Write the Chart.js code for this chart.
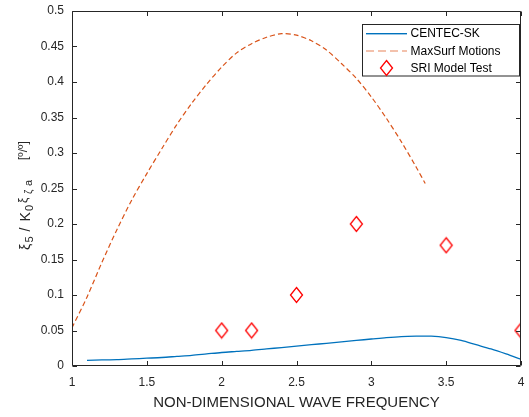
<!DOCTYPE html>
<html>
<head>
<meta charset="utf-8">
<script src="https://cdn.jsdelivr.net/npm/chart.js@4/dist/chart.umd.min.js"></script>
<style>
  html, body { margin: 0; padding: 0; background: #fff; }
  #wrap { width: 529px; height: 417px; position: relative; }
</style>
</head>
<body>
<div id="wrap"><canvas id="c" width="529" height="417"></canvas></div>
<script>
// ---- data ----
const centecFreq = [1.1,1.2,1.3,1.4,1.5,1.6,1.7,1.8,1.9,2.0,2.1,2.2,2.3,2.4,2.5,2.6,2.7,2.8,2.9,3.0,3.1,3.2,3.3,3.4,3.5,3.6,3.7,3.8,3.9,4.0];
const centecVals = [0.008,0.0085,0.009,0.010,0.011,0.012,0.0135,0.015,0.017,0.019,0.0205,0.022,0.024,0.026,0.028,0.030,0.032,0.034,0.036,0.038,0.040,0.0415,0.042,0.042,0.040,0.036,0.030,0.024,0.017,0.0095];
const maxsurfFreq = [1.0,1.1,1.2,1.3,1.4,1.5,1.6,1.7,1.8,1.9,2.0,2.1,2.2,2.3,2.4,2.5,2.6,2.7,2.8,2.9,3.0,3.1,3.2,3.3,3.36];
const maxsurfVals = [0.054,0.097,0.146,0.192,0.234,0.271,0.306,0.340,0.370,0.397,0.421,0.441,0.454,0.463,0.468,0.466,0.458,0.445,0.426,0.405,0.379,0.349,0.316,0.280,0.257];
const sriFreq = [2.0,2.2,2.5,2.9,3.5,4.0];
const sriVals = [0.05,0.05,0.1,0.2,0.17,0.05];
const seriesNames = ['CENTEC-SK','MaxSurf Motions','SRI Model Test'];
const xAxisTitle = 'NON-DIMENSIONAL WAVE FREQUENCY';

const toPts = (xs, ys) => xs.map((x, i) => ({x: x, y: ys[i]}));

const BLUE = '#0072BD', ORANGE = '#D95319', RED = '#FF0000';

// diamond marker
function diamond(w, h, color) {
  const c = document.createElement('canvas');
  c.width = w + 3; c.height = h + 3;
  const g = c.getContext('2d');
  g.strokeStyle = color; g.lineWidth = 1.3;
  const cx = c.width / 2, cy = c.height / 2;
  g.beginPath();
  g.moveTo(cx, cy - h / 2);
  g.lineTo(cx + w / 2, cy);
  g.lineTo(cx, cy + h / 2);
  g.lineTo(cx - w / 2, cy);
  g.closePath();
  g.stroke();
  return c;
}
const dia = diamond(12, 15, RED);

const AX = '#262626';
const FONT = '"Liberation Sans", Arial, sans-serif';
const PLOT = {left: 72, top: 11, right: 522, bottom: 366};

const framePlugin = {
  id: 'frame',
  afterDraw(chart) {
    const ctx = chart.ctx;
    const a = chart.chartArea;
    const xs = chart.scales.x, ys = chart.scales.y;
    ctx.save();
    ctx.strokeStyle = AX;
    ctx.lineWidth = 1;
    const L = Math.round(a.left) + 0.5, R = Math.round(a.right) - 0.5;
    const T = Math.round(a.top) + 0.5, B = Math.round(a.bottom) - 0.5;
    ctx.beginPath();
    ctx.rect(L, T, R - L, B - T);
    const tl = 4.5;
    xs.ticks.forEach(t => {
      const px = Math.round(xs.getPixelForValue(t.value)) + 0.5;
      ctx.moveTo(px, B); ctx.lineTo(px, B - tl);
      ctx.moveTo(px, T); ctx.lineTo(px, T + tl);
    });
    ys.ticks.forEach(t => {
      const py = Math.round(ys.getPixelForValue(t.value)) + 0.5;
      ctx.moveTo(L, py); ctx.lineTo(L + tl, py);
      ctx.moveTo(R, py); ctx.lineTo(R - tl, py);
    });
    ctx.stroke();

    // x title
    ctx.fillStyle = AX;
    ctx.font = '15px ' + FONT;
    ctx.textAlign = 'center';
    ctx.textBaseline = 'alphabetic';
    ctx.fillText(xAxisTitle, (a.left + a.right) / 2, 407);

    // y title with sub/superscripts (p = position along text, o = baseline shift)
    const segs = [
      {t: 'ξ', f: 14, p: 0, o: 0},
      {t: '5', f: 11, p: 7.5, o: 3},
      {t: '/', f: 14, p: 18.5, o: 0},
      {t: 'K', f: 14, p: 28.5, o: 0},
      {t: '0', f: 11, p: 39, o: 3},
      {t: 'ξ', f: 12, p: 47, o: -3},
      {t: 'ζ', f: 10, p: 56, o: 2},
      {t: 'a', f: 11, p: 64, o: 2},
      {t: '[º/º]', f: 12, p: 90, o: -3}
    ];
    ctx.save();
    ctx.translate(30, 250);
    ctx.rotate(-Math.PI / 2);
    ctx.textAlign = 'left';
    segs.forEach(s => {
      ctx.font = s.f + 'px ' + FONT;
      ctx.fillText(s.t, s.p, s.o);
    });
    ctx.restore();

    // legend
    const lx = 362.5, ly = 24.5, lw = 157, lh = 51.5;
    ctx.fillStyle = '#fff';
    ctx.fillRect(lx, ly, lw, lh);
    ctx.strokeStyle = AX;
    ctx.lineWidth = 1;
    ctx.strokeRect(lx, ly, lw, lh);
    const rows = [33.5, 51, 68];
    ctx.setLineDash([]);
    ctx.fillStyle = BLUE;
    ctx.fillRect(366, 33, 41, 1.4);
    ctx.strokeStyle = '#E8835A'; ctx.lineWidth = 1.2; ctx.setLineDash([8, 4]);
    ctx.beginPath(); ctx.moveTo(366, rows[1]); ctx.lineTo(407, rows[1]); ctx.stroke();
    ctx.setLineDash([]);
    ctx.drawImage(dia, 386.5 - dia.width / 2, rows[2] - dia.height / 2);
    ctx.fillStyle = '#000';
    ctx.font = '12px ' + FONT;
    ctx.textBaseline = 'middle';
    ctx.textAlign = 'left';
    seriesNames.forEach((n, i) => ctx.fillText(n, 410.5, rows[i] + 0.5));
    ctx.restore();
  }
};

const fmt = v => String(Number(v.toFixed(2)));
const noSidePad = s => { s.paddingLeft = 0; s.paddingRight = 0; s.paddingTop = 0; s.paddingBottom = 0; };

new Chart(document.getElementById('c'), {
  type: 'scatter',
  data: {
    datasets: [
      {
        label: seriesNames[0],
        data: toPts(centecFreq, centecVals),
        showLine: true,
        borderColor: BLUE,
        borderWidth: 1.3,
        pointRadius: 0,
        tension: 0.3,
        fill: false
      },
      {
        label: seriesNames[1],
        data: toPts(maxsurfFreq, maxsurfVals),
        showLine: true,
        borderColor: ORANGE,
        borderWidth: 1.2,
        borderDash: [5, 3],
        pointRadius: 0,
        tension: 0.3,
        fill: false
      },
      {
        label: seriesNames[2],
        data: toPts(sriFreq, sriVals),
        showLine: false,
        pointStyle: dia,
        pointRadius: 7,
        borderColor: RED
      }
    ]
  },
  options: {
    responsive: false,
    animation: false,
    devicePixelRatio: 1,
    layout: { padding: { left: 0, top: PLOT.top, right: 529 - PLOT.right, bottom: 0 } },
    plugins: { legend: { display: false }, tooltip: { enabled: false } },
    scales: {
      x: {
        type: 'linear', min: 1, max: 4,
        border: { display: false },
        grid: { display: false, drawTicks: false },
        ticks: { stepSize: 0.5, padding: 9, color: AX, maxRotation: 0,
          font: { family: FONT, size: 12 },
          callback: v => fmt(v) },
        afterFit: s => { s.height = 417 - PLOT.bottom; noSidePad(s); }
      },
      y: {
        type: 'linear', min: 0, max: 0.5,
        border: { display: false },
        grid: { display: false, drawTicks: false },
        ticks: { stepSize: 0.05, padding: 8, color: AX,
          font: { family: FONT, size: 12 },
          callback: v => fmt(v) },
        afterFit: s => { s.width = PLOT.left; noSidePad(s); }
      }
    }
  },
  plugins: [framePlugin]
});
</script>
</body>
</html>
